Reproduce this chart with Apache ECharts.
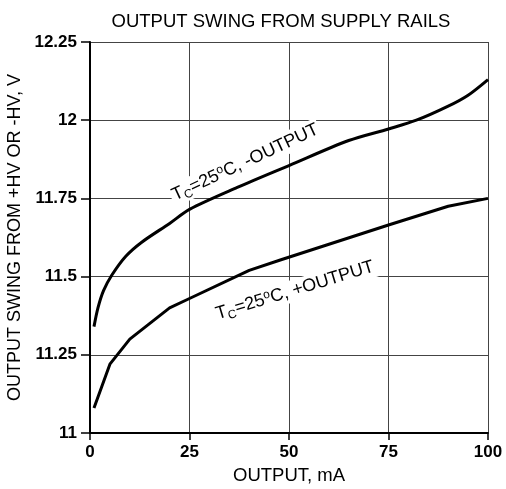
<!DOCTYPE html>
<html>
<head>
<meta charset="utf-8">
<script src="https://cdn.jsdelivr.net/npm/echarts@6/dist/echarts.min.js"></script>
<style>
  html, body { margin: 0; padding: 0; background: #fff; }
  #grafico { width: 506px; height: 489px; }
</style>
</head>
<body>
<div id="grafico"></div>
<script>
// curva -OUTPUT (superior)
const correnteMenos = [1, 2, 3.4, 5.5, 9, 13, 20, 25, 37, 50, 65, 75, 82, 90, 95, 100];
const swingMenos = [11.34, 11.40, 11.455, 11.505, 11.565, 11.61, 11.67, 11.715, 11.785, 11.855, 11.935, 11.972, 12.0, 12.045, 12.08, 12.13];

// curva +OUTPUT (inferior)
const correnteMais = [1, 5, 10, 20, 25, 40, 48, 75, 90, 100];
const swingMais = [11.08, 11.22, 11.30, 11.40, 11.43, 11.52, 11.554, 11.665, 11.725, 11.75];

const ticksX = [0, 25, 50, 75, 100];
const ticksY = [11, 11.25, 11.5, 11.75, 12, 12.25];

const fonte = "Liberation Sans, Arial, sans-serif";

const pares = (xs, ys) => xs.map((x, i) => [x, ys[i]]);

let chart = echarts.init(document.getElementById("grafico"));

chart.setOption({
  animation: false,
  title: {
    text: "OUTPUT SWING FROM SUPPLY RAILS",
    left: 276,
    top: 7,
    textAlign: "center",
    textStyle: { fontFamily: fonte, fontSize: 18.5, fontWeight: "normal", color: "#000" },
  },
  grid: { left: 90, right: 18, top: 42, bottom: 56, outerBoundsMode: "none", containLabel: false },
  xAxis: {
    type: "value",
    min: ticksX[0],
    max: ticksX[ticksX.length - 1],
    interval: 25,
    name: "OUTPUT, mA",
    nameLocation: "middle",
    nameGap: 33,
    nameTextStyle: { fontFamily: fonte, fontSize: 18.5, color: "#000" },
    axisLine: { lineStyle: { color: "#000", width: 2 } },
    axisTick: { show: true, length: 7, lineStyle: { color: "#000", width: 1.5 } },
    axisLabel: { fontFamily: fonte, fontSize: 17, fontWeight: "bold", color: "#000", margin: 11 },
    splitLine: { show: true, lineStyle: { color: "#444", width: 1 } },
  },
  yAxis: {
    type: "value",
    min: ticksY[0],
    max: ticksY[ticksY.length - 1],
    interval: 0.25,
    name: "OUTPUT SWING FROM +HV OR -HV, V",
    nameLocation: "middle",
    nameGap: 65,
    nameTextStyle: { fontFamily: fonte, fontSize: 18, color: "#000" },
    axisLine: { show: true, lineStyle: { color: "#000", width: 2 } },
    axisTick: { show: true, length: 9, lineStyle: { color: "#000", width: 1.5 } },
    axisLabel: { fontFamily: fonte, fontSize: 17, fontWeight: "bold", color: "#000", margin: 13 },
    splitLine: { show: true, lineStyle: { color: "#444", width: 1 } },
  },
  series: [
    {
      name: "-OUTPUT",
      type: "line",
      data: pares(correnteMenos, swingMenos),
      smooth: 0.3,
      showSymbol: false,
      lineStyle: { color: "#000", width: 3 },
    },
    {
      name: "+OUTPUT",
      type: "line",
      data: pares(correnteMais, swingMais),
      showSymbol: false,
      lineStyle: { color: "#000", width: 3 },
    },
  ],
});

// rotulos das curvas, ancorados em coordenadas de dados
function rotulo(x, y, texto, anguloGraus) {
  const [px, py] = chart.convertToPixel({ gridIndex: 0 }, [x, y]);
  return {
    type: "text",
    x: px,
    y: py,
    rotation: (anguloGraus * Math.PI) / 180,
    z: 100,
    style: {
      text: texto,
      align: "center",
      verticalAlign: "middle",
      backgroundColor: "#fff",
      padding: [0, 2],
      fill: "#000",
      font: "18px " + fonte,
      rich: {
        sub: { fontSize: 12, fontFamily: fonte, padding: [10, 0, 0, 0], fill: "#000" },
        sup: { fontSize: 12, fontFamily: fonte, padding: [0, 0, 8, 0], fill: "#000" },
        n: { fontSize: 18, fontFamily: fonte, fill: "#000" },
      },
    },
  };
}

chart.setOption({
  graphic: [
    rotulo(39, 11.865, "{n|T}{sub|C}{n|=25}{sup|o}{n|C, -OUTPUT}", 25),
    rotulo(51.5, 11.456, "{n|T}{sub|C}{n|=25}{sup|o}{n|C, +OUTPUT}", 17),
  ],
});
</script>
</body>
</html>
